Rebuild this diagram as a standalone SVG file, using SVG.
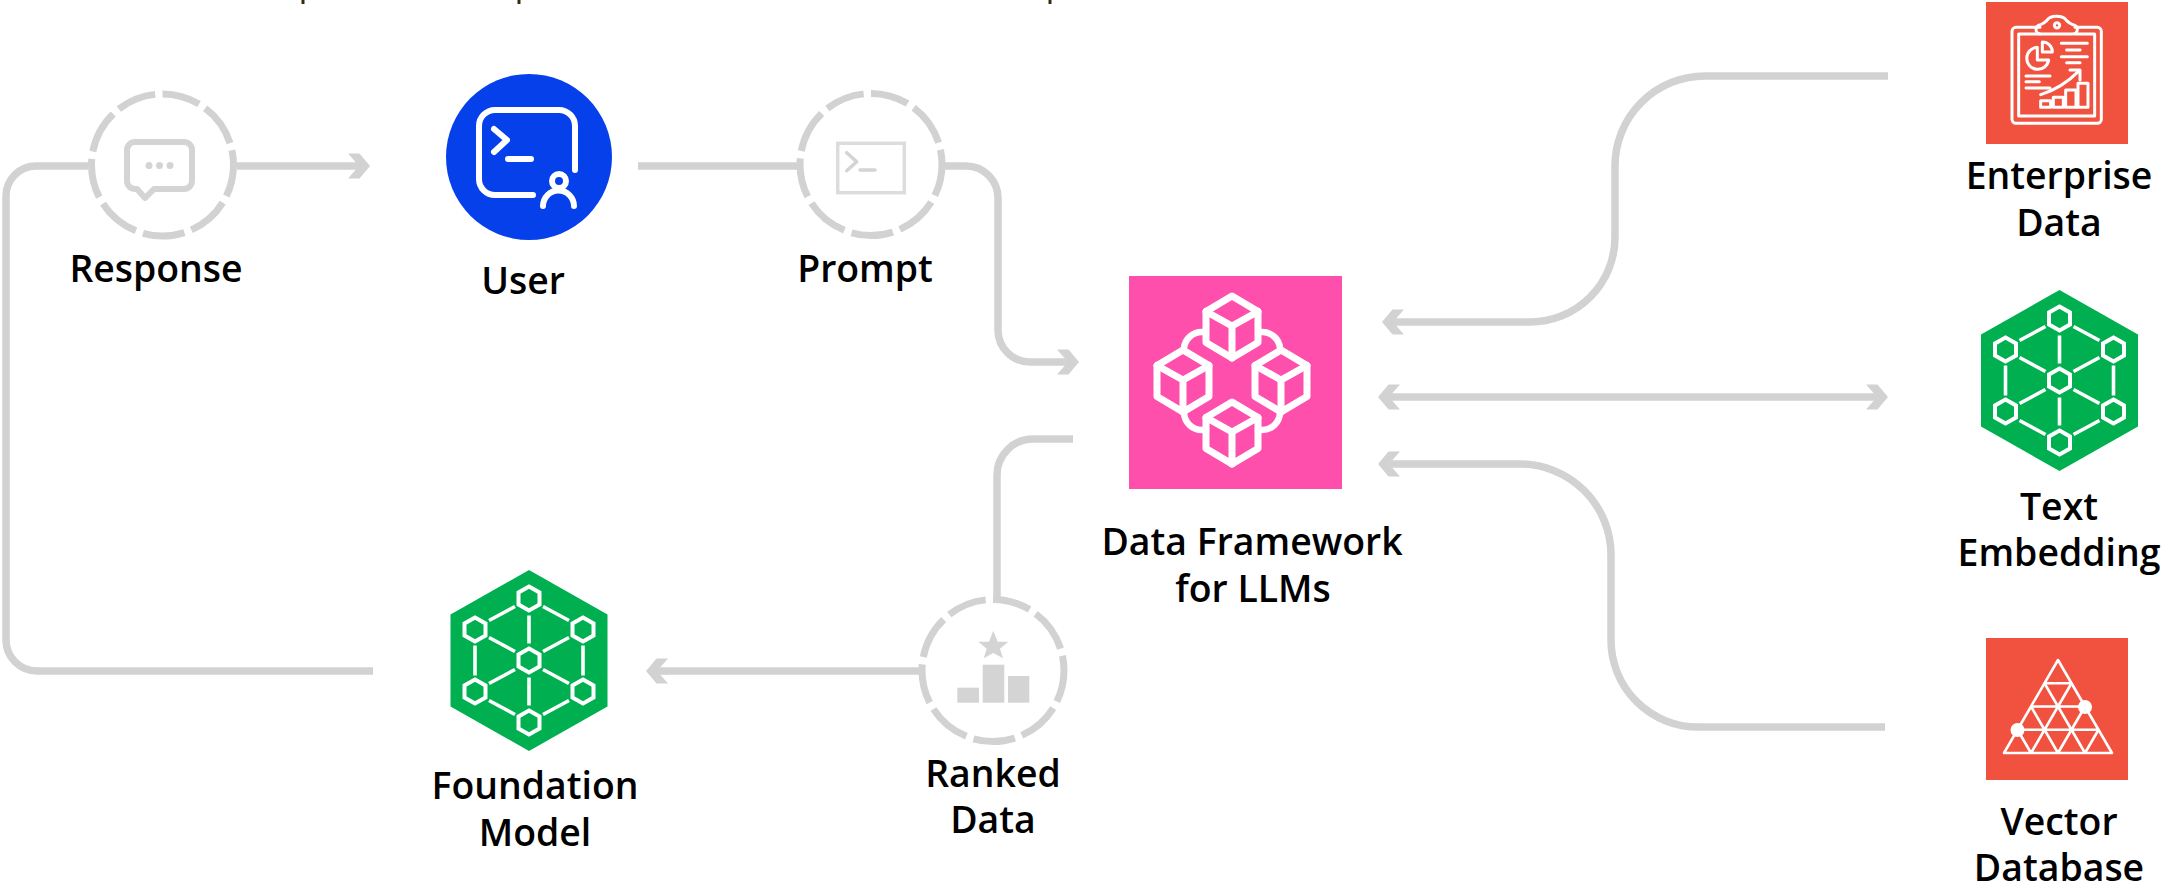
<svg xmlns="http://www.w3.org/2000/svg" xmlns:xlink="http://www.w3.org/1999/xlink" width="2164" height="885" viewBox="0 0 2164 885">
<style>
text{font-family:"Open Sans","Liberation Sans",sans-serif;font-weight:600;font-size:37.4px;fill:#000;text-anchor:middle}
.c{fill:none;stroke:#d2d2d2;stroke-width:7.5}
.ring{fill:none;stroke:#d2d2d2;stroke-width:7;stroke-dasharray:31 6 35 6 38 6 34 6 34 6 35 6 32 6 35 6 32 6}
.w{fill:none;stroke:#fff;stroke-linecap:round;stroke-linejoin:round}
.g{fill:none;stroke:#d4d4d4;stroke-linecap:round;stroke-linejoin:round}
</style>
<defs>
<marker id="arrow" markerUnits="userSpaceOnUse" markerWidth="24" markerHeight="28" viewBox="-24 -14 24 28" refX="-8" refY="0" orient="auto-start-reverse">
<path d="M-22 -12.5H-10.5L0 0L-10.5 12.5H-22L-11 0Z" fill="#d2d2d2"/>
</marker>
<circle id="ringshape" class="ring" r="71" pathLength="360" transform="rotate(-90)"/>
<g id="cube" class="w" stroke-width="7">
<path d="M0 -31L26 -15.5V15.5L0 31L-26 15.5V-15.5Z"/>
<path d="M-26 -15.5L0 -1L26 -15.5M0 -1V31"/>
</g>
<polygon id="hs" points="0,-12 10.5,-6 10.5,6 0,12 -10.5,6 -10.5,-6" fill="none" stroke="#fff" stroke-width="4"/>
<g id="mesh">
<polygon points="0,-90.5 78.5,-46 78.5,46 0,90.5 -78.5,46 -78.5,-46" fill="#00b050"/>
<use xlink:href="#hs" href="#hs" y="-62"/><use xlink:href="#hs" href="#hs" x="-54" y="-31"/><use xlink:href="#hs" href="#hs" x="54" y="-31"/>
<use xlink:href="#hs" href="#hs"/><use xlink:href="#hs" href="#hs" x="-54" y="31"/><use xlink:href="#hs" href="#hs" x="54" y="31"/><use xlink:href="#hs" href="#hs" y="62"/>
<path d="M0 -45V-17M0 17V45M-40 -40L-14 -54M40 -40L14 -54M-40 40L-14 54M40 40L14 54M-40 -23L-14 -9M40 -23L14 -9M-40 23L-14 9M40 23L14 9M-54 -15V15M54 -15V15" stroke="#fff" stroke-width="3.6" fill="none"/>
</g>
</defs>

<rect width="2164" height="885" fill="#fff"/>

<g id="top-fragments" fill="#3a2a12">
<rect x="301.5" y="0" width="3" height="4"/><rect x="517.5" y="0" width="3" height="4"/><rect x="1048.5" y="0" width="3" height="4"/>
</g>

<g id="connectors" class="c">
<path d="M88 166H36A30 30 0 0 0 6 196V640A31 31 0 0 0 37 671H373"/>
<path d="M237 166H362" marker-end="url(#arrow)"/>
<path d="M638 166H798"/>
<path d="M945 166H966A32 32 0 0 1 998 198V330A32 32 0 0 0 1030 362H1071" marker-end="url(#arrow)"/>
<path d="M997 598V475A36 36 0 0 1 1033 439H1073"/>
<path d="M920 671H654" marker-end="url(#arrow)"/>
<path d="M1888 76H1705A90 90 0 0 0 1615 166V237A85 85 0 0 1 1530 322H1390" marker-end="url(#arrow)"/>
<path d="M1386 397H1880" marker-start="url(#arrow)" marker-end="url(#arrow)"/>
<path d="M1885 727H1698A87 87 0 0 1 1611 640V555A91 91 0 0 0 1520 464H1386" marker-end="url(#arrow)"/>
</g>

<g id="response">
<use xlink:href="#ringshape" href="#ringshape" x="162.5" y="165"/>
<path class="g" stroke-width="6" d="M135 142H184A8 8 0 0 1 192 150V181A8 8 0 0 1 184 189H154L145 198L137 189H135A8 8 0 0 1 127 181V150A8 8 0 0 1 135 142Z"/>
<circle cx="149" cy="165.5" r="3.5" fill="#d4d4d4"/><circle cx="159.5" cy="165.5" r="3.5" fill="#d4d4d4"/><circle cx="170" cy="165.5" r="3.5" fill="#d4d4d4"/>
<text x="156" y="282">Response</text>
</g>

<g id="user">
<circle cx="529" cy="157" r="83" fill="#0540eb"/>
<g class="w" stroke-width="6">
<path d="M575 170V126A16 16 0 0 0 559 110H495A16 16 0 0 0 479 126V179A16 16 0 0 0 495 195H533"/>
<path d="M494 129L507 140L494 152M508 159H531"/>
<circle cx="559" cy="181" r="7"/>
<path d="M543 206A15.5 15.5 0 0 1 574 206"/>
</g>
<text x="523" y="294">User</text>
</g>

<g id="prompt">
<use xlink:href="#ringshape" href="#ringshape" x="871" y="164.5"/>
<rect x="837.7" y="143.3" width="66.6" height="49.4" fill="none" stroke="#dcdcdc" stroke-width="3.5"/>
<path class="g" stroke-width="3.5" d="M846.7 152.7L856.7 161.7L846.7 170.7M860 170H875"/>
<text x="865" y="282">Prompt</text>
</g>

<g id="data-framework">
<rect x="1129" y="276" width="213" height="213" fill="#ff4fac"/>
<g class="w" stroke-width="6.5">
<path d="M1202 332A18 18 0 0 0 1184 348M1262 332A18 18 0 0 1 1280 348M1184 413A18 18 0 0 0 1202 430M1280 413A18 18 0 0 1 1262 430"/>
</g>
<use xlink:href="#cube" href="#cube" x="1232" y="327"/>
<use xlink:href="#cube" href="#cube" x="1183" y="381"/>
<use xlink:href="#cube" href="#cube" x="1281" y="381"/>
<use xlink:href="#cube" href="#cube" x="1232" y="433"/>
<text x="1252" y="555">Data Framework</text>
<text x="1253" y="602">for LLMs</text>
</g>

<g id="foundation-model">
<use xlink:href="#mesh" href="#mesh" x="529" y="660.5"/>
<text x="535" y="799">Foundation</text>
<text x="535" y="846">Model</text>
</g>

<g id="ranked-data">
<use xlink:href="#ringshape" href="#ringshape" x="993" y="670.5"/>
<polygon fill="#d4d4d4" points="993.3,630.7 997.7,641.7 1008.3,641.7 1000,648.7 1003,658.3 993.3,653 983.7,658.3 986.7,648.7 978.3,641.7 989,641.7"/>
<rect x="957.3" y="687.7" width="21.7" height="15" fill="#d4d4d4"/>
<rect x="982.7" y="664.7" width="21.6" height="38" fill="#d4d4d4"/>
<rect x="1008" y="676" width="21.3" height="26.7" fill="#d4d4d4"/>
<text x="993" y="787">Ranked</text>
<text x="993" y="833">Data</text>
</g>

<g id="enterprise-data">
<rect x="1986" y="2" width="142" height="142" fill="#f15240"/>
<g class="w" transform="translate(2000 10) scale(.3333)" stroke-width="9">
<path d="M120 52H48A12 12 0 0 0 36 64V328A12 12 0 0 0 48 340H292A12 12 0 0 0 304 328V64A12 12 0 0 0 292 52H225"/>
<path d="M120 72H56V318H284V72H225"/>
<path d="M122 72A10 10 0 0 1 122 44C128 42 134 38 140 32C150 14 190 14 200 32C206 38 212 42 218 44A14 14 0 0 1 218 72Z"/>
<circle cx="171" cy="46" r="8"/>
<path d="M112 112A33 33 0 1 0 146 150H112Z"/>
<path d="M127 96A30 30 0 0 1 157 126H127Z"/>
<path d="M184 100H262M200 120H240M184 140H262M200 158H240M78 198H150M78 215H118M78 234H150M122 254C170 240 205 215 238 182M210 180H240V210"/>
<path d="M122 272H152V292H122ZM160 262H190V292H160ZM197 240H228V292H197ZM234 220H264V292H234Z"/>
</g>
<text x="2059" y="189">Enterprise</text>
<text x="2059" y="236">Data</text>
</g>

<g id="text-embedding">
<use xlink:href="#mesh" href="#mesh" x="2059.5" y="380.5"/>
<text x="2059" y="520">Text</text>
<text x="2059" y="566">Embedding</text>
</g>

<g id="vector-database">
<rect x="1986" y="638" width="142" height="142" fill="#f15240"/>
<g class="w" stroke-width="2.6">
<path d="M2058 660L2112 753H2004ZM2044.5 683.25H2071.5M2031 706.5H2085M2017.5 729.75H2098.5M2031 753L2071.5 683.25M2058 753L2085 706.5M2085 753L2098.5 729.75M2085 753L2044.5 683.25M2058 753L2031 706.5M2031 753L2017.5 729.75"/>
</g>
<circle cx="2017.5" cy="730" r="7" fill="#fff"/><circle cx="2085" cy="707" r="7" fill="#fff"/>
<text x="2059" y="835">Vector</text>
<text x="2059" y="881">Database</text>
</g>
</svg>
